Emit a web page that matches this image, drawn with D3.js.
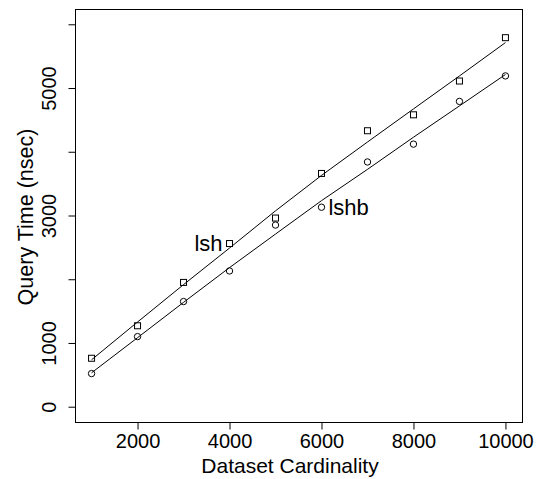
<!DOCTYPE html>
<html>
<head>
<meta charset="utf-8">
<script src="https://cdn.jsdelivr.net/npm/d3@7"></script>
<style>
  body { margin: 0; background: #fff; }
  svg { font-family: "Liberation Sans", Arial, sans-serif; }
</style>
</head>
<body>
<svg id="chart" width="539" height="479"></svg>
<script>
// Dataset sizes and measured query times
const cardinality = [1000, 2000, 3000, 4000, 5000, 6000, 7000, 8000, 9000, 10000];
const lshTimes = [760, 1270, 1950, 2560, 2960, 3660, 4330, 4580, 5110, 5790];
const lshbTimes = [520, 1100, 1650, 2130, 2850, 3130, 3840, 4120, 4790, 5190];

const xTicks = [2000, 4000, 6000, 8000, 10000];
const yTicks = [0, 1000, 2000, 3000, 4000, 5000, 6000];
const yTickLabels = ["0", "1000", "", "3000", "", "5000", ""];

// series labels: name, index of the point they sit next to, side
const seriesLabels = [
    { text: "lsh", idx: 3, side: "left", series: lshTimes },
    { text: "lshb", idx: 5, side: "right", series: lshbTimes }
];

const width = 539, height = 479;
const margin = { top: 9, right: 17, bottom: 57, left: 75 };

// R-style lowess smoother (f = 2/3, 3 robustness iterations)
function lowess(x, y, f = 2 / 3, nsteps = 3) {
    const n = x.length;
    const ns = Math.max(2, Math.min(n, Math.floor(f * n + 1e-7)));
    const delta = 0.01 * (x[n - 1] - x[0]);
    const ys = new Array(n).fill(0), rw = new Array(n).fill(1), res = new Array(n).fill(0);

    function lowest(xs, nleft, nright, userw) {
        const range = x[n - 1] - x[0];
        const h = Math.max(xs - x[nleft], x[nright] - xs);
        const h9 = 0.999 * h, h1 = 0.001 * h;
        const w = new Array(n).fill(0);
        let a = 0, j = nleft;
        while (j < n) {
            const r = Math.abs(x[j] - xs);
            if (r <= h9) {
                w[j] = r <= h1 ? 1 : Math.pow(1 - Math.pow(r / h, 3), 3);
                if (userw) w[j] *= rw[j];
                a += w[j];
            } else if (x[j] > xs) break;
            j++;
        }
        const nrt = j - 1;
        if (a <= 0) return null;
        for (j = nleft; j <= nrt; j++) w[j] /= a;
        if (h > 0) {
            a = 0;
            for (j = nleft; j <= nrt; j++) a += w[j] * x[j];
            let b = xs - a, c = 0;
            for (j = nleft; j <= nrt; j++) c += w[j] * (x[j] - a) * (x[j] - a);
            if (Math.sqrt(c) > 0.001 * range) {
                b /= c;
                for (j = nleft; j <= nrt; j++) w[j] *= (b * (x[j] - a) + 1);
            }
        }
        let out = 0;
        for (j = nleft; j <= nrt; j++) out += w[j] * y[j];
        return out;
    }

    for (let iter = 1; iter <= nsteps + 1; iter++) {
        let nleft = 0, nright = ns - 1, last = -1, i = 0;
        while (true) {
            if (nright < n - 1) {
                const d1 = x[i] - x[nleft], d2 = x[nright + 1] - x[i];
                if (d1 > d2) { nleft++; nright++; continue; }
            }
            const v = lowest(x[i], nleft, nright, iter > 1);
            ys[i] = v === null ? y[i] : v;
            if (last < i - 1) {
                const denom = x[i] - x[last];
                for (let j = last + 1; j < i; j++) {
                    const alpha = (x[j] - x[last]) / denom;
                    ys[j] = alpha * ys[i] + (1 - alpha) * ys[last];
                }
            }
            last = i;
            const cut = x[last] + delta;
            for (i = last + 1; i < n; i++) {
                if (x[i] > cut) break;
                if (x[i] === x[last]) { ys[i] = ys[last]; last = i; }
            }
            i = Math.max(last + 1, i - 1);
            if (last >= n - 1) break;
        }
        for (let k = 0; k < n; k++) res[k] = y[k] - ys[k];
        const sc = d3.sum(res, r => Math.abs(r)) / n;
        if (iter > nsteps) break;
        const absr = res.map(Math.abs).sort((a, b) => a - b);
        const m1 = Math.floor(n / 2);
        const cmad = n % 2 === 0 ? 3 * (absr[m1] + absr[m1 - 1]) : 6 * absr[m1];
        if (cmad < 1e-7 * sc) break;
        const c9 = 0.999 * cmad, c1 = 0.001 * cmad;
        for (let k = 0; k < n; k++) {
            const r = Math.abs(res[k]);
            rw[k] = r <= c1 ? 1 : r <= c9 ? Math.pow(1 - Math.pow(r / cmad, 2), 2) : 0;
        }
    }
    return ys;
}

const svg = d3.select("#chart");

// R pads the axis range by 4% on each side
const xPad = (d3.max(cardinality) - d3.min(cardinality)) * 0.04;
const x = d3.scaleLinear()
    .domain([d3.min(cardinality) - xPad, d3.max(cardinality) + xPad])
    .range([margin.left, width - margin.right]);

const yPad = (6000 - 0) * 0.04;
const y = d3.scaleLinear()
    .domain([0 - yPad, 6000 + yPad])
    .range([height - margin.bottom, margin.top]);

// frame
svg.append("rect")
    .attr("x", margin.left + 0.5)
    .attr("y", margin.top + 0.5)
    .attr("width", width - margin.left - margin.right)
    .attr("height", height - margin.top - margin.bottom)
    .attr("fill", "none")
    .attr("stroke", "#000")
    .attr("stroke-width", 1);

// x axis
const xAxis = d3.axisBottom(x)
    .tickValues(xTicks)
    .tickSize(7)
    .tickPadding(4)
    .tickFormat(d3.format("d"));

const gx = svg.append("g")
    .attr("transform", `translate(0,${height - margin.bottom + 0.5})`)
    .call(xAxis);
gx.select(".domain").remove();
gx.selectAll("text").style("font-size", "20px").attr("fill", "#000");
gx.selectAll("line").attr("stroke", "#000");

// y axis with rotated labels
const yAxis = d3.axisLeft(y)
    .tickValues(yTicks)
    .tickSize(7)
    .tickFormat((d, i) => yTickLabels[i]);

const gy = svg.append("g")
    .attr("transform", `translate(${margin.left + 0.5},0)`)
    .call(yAxis);
gy.select(".domain").remove();
gy.selectAll("line").attr("stroke", "#000");
gy.selectAll("text")
    .style("font-size", "20px")
    .attr("fill", "#000")
    .attr("x", null)
    .attr("dy", null)
    .attr("text-anchor", "middle")
    .attr("transform", "translate(-20,0) rotate(-90)");

// axis titles
svg.append("text")
    .attr("x", 290)
    .attr("y", 473)
    .attr("text-anchor", "middle")
    .style("font-size", "21px")
    .text("Dataset Cardinality");

svg.append("text")
    .attr("transform", `translate(33,217) rotate(-90)`)
    .attr("text-anchor", "middle")
    .style("font-size", "21.5px")
    .text("Query Time (nsec)");

// smoothed lines
const line = d3.line()
    .x(d => x(d[0]))
    .y(d => y(d[1]));

[lshTimes, lshbTimes].forEach(series => {
    const fit = lowess(cardinality, series);
    svg.append("path")
        .datum(cardinality.map((c, i) => [c, fit[i]]))
        .attr("d", line)
        .attr("fill", "none")
        .attr("stroke", "#000")
        .attr("stroke-width", 1);
});

// squares for lsh
svg.append("g").selectAll("rect")
    .data(cardinality.map((c, i) => [c, lshTimes[i]]))
    .join("rect")
    .attr("x", d => x(d[0]) - 3)
    .attr("y", d => y(d[1]) - 3)
    .attr("width", 6)
    .attr("height", 6)
    .attr("fill", "none")
    .attr("stroke", "#000")
    .attr("stroke-width", 1);

// circles for lshb
svg.append("g").selectAll("circle")
    .data(cardinality.map((c, i) => [c, lshbTimes[i]]))
    .join("circle")
    .attr("cx", d => x(d[0]))
    .attr("cy", d => y(d[1]))
    .attr("r", 3.2)
    .attr("fill", "none")
    .attr("stroke", "#000")
    .attr("stroke-width", 1);

// series labels
svg.append("g").selectAll("text")
    .data(seriesLabels)
    .join("text")
    .attr("x", d => x(cardinality[d.idx]) + (d.side === "left" ? -7 : 7))
    .attr("y", d => y(d.series[d.idx]))
    .attr("dy", "0.36em")
    .attr("text-anchor", d => d.side === "left" ? "end" : "start")
    .style("font-size", "22px")
    .text(d => d.text);
</script>
</body>
</html>
